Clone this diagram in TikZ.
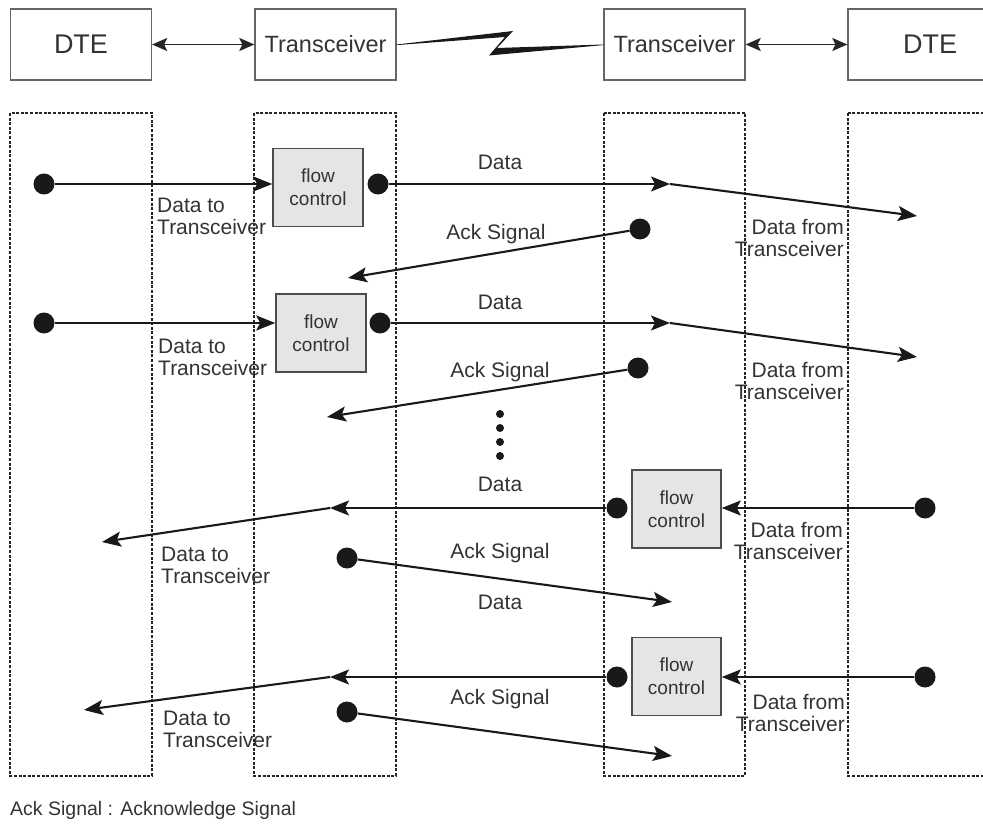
\documentclass[tikz,border=0pt]{standalone}
\usepackage{fontspec}
\setmainfont{Liberation Sans}
\usetikzlibrary{arrows.meta}

\begin{document}
\begin{tikzpicture}[x=1pt, y=-1pt, font=\fontsize{21}{22}\selectfont, text=black!80,
  unit/.style={draw=black!60, line width=1.3pt, minimum width=141, minimum height=71, inner sep=0pt},
  flowbox/.style={draw=black!70, line width=1.6pt, fill=black!10, minimum width=90, minimum height=78,
    inner sep=0pt, align=center, font=\fontsize{19}{23}\selectfont},
  lane/.style={draw=black!85, line width=1.2pt, dash pattern=on 3pt off 1.6pt},
  dot/.style={circle, fill=black!90, minimum size=21, inner sep=0pt},
  sig/.style={draw=black!90, line width=2.1pt, -{Stealth[length=19pt, width=15pt, inset=4pt]}},
  link/.style={draw=black!85, line width=1.8pt, {Stealth[length=15pt, width=13pt, inset=3pt]}-{Stealth[length=15pt, width=13pt, inset=3pt]}},
  lbl/.style={inner sep=0pt}]
  \useasboundingbox (0,0) rectangle (983,824);

  % top row
  \node[unit, font=\fontsize{27}{30}\selectfont] (dteL) at (81,44.5) {DTE};
  \node[unit, font=\fontsize{23.5}{26}\selectfont] (trL) at (325.5,44.5) {Transceiver};
  \node[unit, font=\fontsize{23.5}{26}\selectfont] (trR) at (674.5,44.5) {Transceiver};
  \node[unit, minimum width=164, font=\fontsize{27}{30}\selectfont] (dteR) at (930,44.5) {DTE};
  \draw[link] (dteL) -- (trL);
  \draw[link] (trR) -- (dteR);
  \fill[black!90] (trL.east) -- (513,31) -- (497,48) -- (trR.west) -- ([yshift=-0.6pt]trR.west)
    -- (489,55.5) -- (505,37) -- ([yshift=-0.6pt]trL.east) -- cycle;

  % lanes
  \draw[lane] (10,113) rectangle (152,776);
  \draw[lane] (254,113) rectangle (396,776);
  \draw[lane] (604,113) rectangle (745,776);
  \draw[lane] (848,113) rectangle (1012,776);

  % flow control
  \node[flowbox] (fc1) at (318,187.5) {flow\\control};
  \node[flowbox] (fc2) at (321,333) {flow\\control};
  \node[flowbox, minimum width=89] (fc3) at (676.5,509) {flow\\control};
  \node[flowbox, minimum width=89] (fc4) at (676.5,676.5) {flow\\control};

  % first send
  \node[dot] (dL1) at (44,184) {};
  \node[dot] (dR1) at (378,184) {};
  \node[dot] (dAck1) at (640,229) {};
  \coordinate (m1) at (670,184);
  \coordinate (e1) at (917,216);
  \coordinate (a1) at (348,278);
  \draw[sig] (dL1) -- (dL1 -| fc1.west);
  \draw[sig] (dR1) -- (m1);
  \draw[sig] (m1) -- (e1);
  \draw[sig] (dAck1) -- (a1);
  \node[lbl] (data1) at (500,162) {Data};
  \node[lbl] (ack1) at (496,234) {Ack Signal};
  \node[lbl, anchor=west, align=left] (to1) at (157,216) {Data to\\Transceiver};
  \node[lbl, anchor=east, align=right] (from1) at (844,238) {Data from\\Transceiver};

  % second send
  \node[dot] (dL2) at (44,323) {};
  \node[dot] (dR2) at (380,323) {};
  \node[dot] (dAck2) at (638,368) {};
  \coordinate (m2) at (670,323);
  \coordinate (e2) at (917,357);
  \coordinate (a2) at (327,417);
  \draw[sig] (dL2) -- (dL2 -| fc2.west);
  \draw[sig] (dR2) -- (m2);
  \draw[sig] (m2) -- (e2);
  \draw[sig] (dAck2) -- (a2);
  \node[lbl] (data2) at (500,302) {Data};
  \node[lbl] (ack2) at (500,372) {Ack Signal};
  \node[lbl, anchor=west, align=left] (to2) at (158,357) {Data to\\Transceiver};
  \node[lbl, anchor=east, align=right] (from2) at (844,381) {Data from\\Transceiver};

  \foreach \y in {414,428,442,456}
    \fill[black!90] (500,\y) circle [radius=4pt];

  % first return
  \node[dot] (dFar3) at (925,508) {};
  \node[dot] (dOut3) at (617,508) {};
  \node[dot] (dAck3) at (347,558) {};
  \coordinate (m3) at (330,508);
  \coordinate (e3) at (102,542);
  \coordinate (a3) at (672,602);
  \draw[sig] (dFar3) -- (dFar3 -| fc3.east);
  \draw[sig] (dOut3) -- (m3);
  \draw[sig] (m3) -- (e3);
  \draw[sig] (dAck3) -- (a3);
  \node[lbl] (data3) at (500,484) {Data};
  \node[lbl] (ack3) at (500,553) {Ack Signal};
  \node[lbl] (data3b) at (500,602) {Data};
  \node[lbl, anchor=west, align=left] (to3) at (161,565) {Data to\\Transceiver};
  \node[lbl, anchor=east, align=right] (from3) at (843,541) {Data from\\Transceiver};

  % second return
  \node[dot] (dFar4) at (925,677) {};
  \node[dot] (dOut4) at (617,677) {};
  \node[dot] (dAck4) at (347,712) {};
  \coordinate (m4) at (330,677);
  \coordinate (e4) at (84,710);
  \coordinate (a4) at (672,756);
  \draw[sig] (dFar4) -- (dFar4 -| fc4.east);
  \draw[sig] (dOut4) -- (m4);
  \draw[sig] (m4) -- (e4);
  \draw[sig] (dAck4) -- (a4);
  \node[lbl] (ack4) at (500,699) {Ack Signal};
  \node[lbl, anchor=west, align=left] (to4) at (163,729) {Data to\\Transceiver};
  \node[lbl, anchor=east, align=right] (from4) at (845,713) {Data from\\Transceiver};

  \node[lbl, anchor=west, font=\fontsize{19.5}{22}\selectfont] (note) at (10,810) {Ack Signal : Acknowledge Signal};
\end{tikzpicture}
\end{document}
